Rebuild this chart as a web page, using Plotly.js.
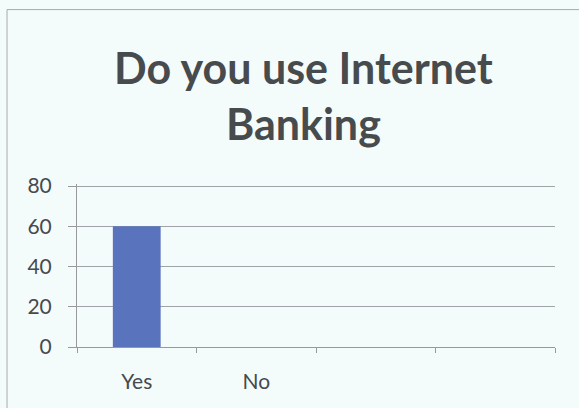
<!DOCTYPE html>
<html><head><meta charset="utf-8">
<script src="https://cdn.plot.ly/plotly-3.0.1.min.js"></script>
<style>html,body{margin:0;padding:0;background:#f4fbfb;}#chart{width:579px;height:408px;}</style>
</head><body><div id="chart"></div>
<script>
var categories = ["Yes", "No"];
var values = [60, 0];
var slotCount = 4;
var yTicks = [0, 20, 40, 60, 80];

var xIdx = categories.map(function(c, i){ return i; });
var boundaries = [];
for (var i = 0; i <= slotCount; i++) boundaries.push(i - 0.5);

var trace = {
  type: 'bar', x: xIdx, y: values, width: 0.4,
  marker: {color: '#5a73bd'}, hoverinfo: 'skip'
};
var layout = {
  width: 579, height: 408,
  paper_bgcolor: '#f4fbfb', plot_bgcolor: '#f4fbfb',
  margin: {l: 77, r: 24, t: 184, b: 61},
  font: {family: 'Lato, sans-serif', color: '#464a4e', size: 21},
  title: {text: 'Do you use Internet<br>Banking', font: {family: 'Lato, sans-serif', size: 43, color: '#474b4e', weight: 'bold'},
          x: 0.524, xref: 'container', xanchor: 'center', y: 0.794, yref: 'container', yanchor: 'middle'},
  xaxis: {range: [-0.5, slotCount - 0.5], tickmode: 'array', tickvals: xIdx, ticktext: categories,
          ticks: '', showgrid: false, zeroline: false, showline: true, linecolor: '#999', linewidth: 1,
          minor: {tickmode: 'array', tickvals: boundaries, ticks: 'outside', ticklen: 5, tickcolor: '#999', showgrid: false},
          fixedrange: true, ticklabelstandoff: 16},
  yaxis: {range: [0, 81], tickmode: 'array', tickvals: yTicks, showgrid: true, gridcolor: '#a0a4a8', gridwidth: 1,
          zeroline: false, showline: true, linecolor: '#999', ticks: 'outside', ticklen: 8, tickcolor: '#999',
          fixedrange: true, ticklabelstandoff: 12},
  shapes: [{type: 'rect', xref: 'paper', yref: 'paper', x0: -0.1464, x1: 1.1, y0: -0.5, y1: 2.07,
            line: {color: '#aaa', width: 1}, fillcolor: 'rgba(0,0,0,0)'}],
  showlegend: false
};
Plotly.newPlot('chart', [trace], layout, {displayModeBar: false, staticPlot: true});
</script></body></html>
